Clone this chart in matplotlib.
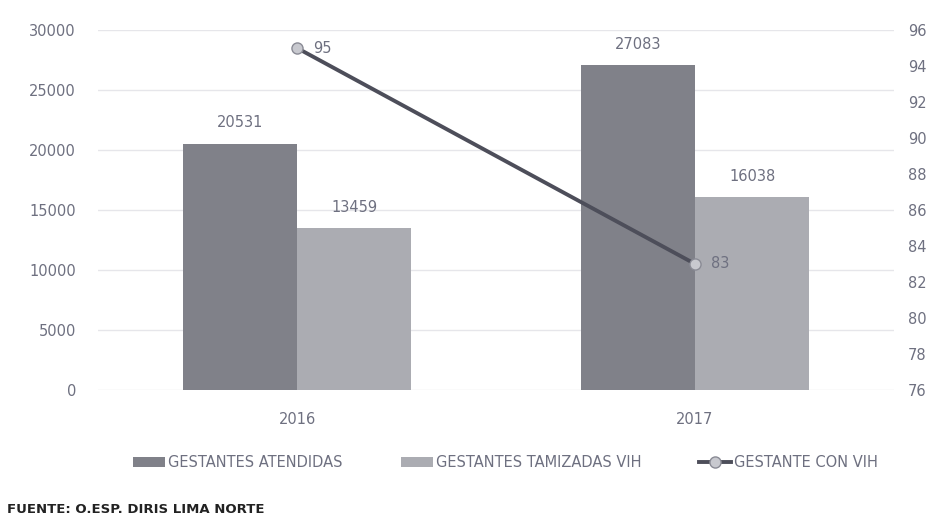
import matplotlib
matplotlib.use("Agg")
import matplotlib.pyplot as plt
import numpy as np

years = ["2016", "2017"]
atendidas = [20531, 27083]
tamizadas = [13459, 16038]
con_vih = [95, 83]
left_ticks = [0, 5000, 10000, 15000, 20000, 25000, 30000]
right_ticks = [76, 78, 80, 82, 84, 86, 88, 90, 92, 94, 96]

c_at = "#808189"
c_tam = "#abacb2"
c_line = "#4d4e5a"
c_txt = "#6e7080"

fig = plt.figure(figsize=(9.36, 5.19), dpi=100)
ax = fig.add_axes([0.105, 0.249, 0.85, 0.693])
x = np.arange(len(years))
w = 0.287
b1 = ax.bar(x - w / 2, atendidas, w, color=c_at, label="GESTANTES ATENDIDAS", zorder=2)
b2 = ax.bar(x + w / 2, tamizadas, w, color=c_tam, label="GESTANTES TAMIZADAS VIH", zorder=2)
ax.set_xlim(-0.5, 1.5)
ax.set_ylim(0, 30000)
ax.set_yticks(left_ticks)
ax.set_xticks(x)
ax.set_xticklabels(years)
ax.grid(axis="y", color="#e6e6ea", lw=1, zorder=0)
for s in ax.spines.values():
    s.set_visible(False)
ax.tick_params(length=0, colors=c_txt, labelsize=10.5)
ax.tick_params(axis="y", pad=16)
ax.tick_params(axis="x", pad=16)
for rect, v in zip(list(b1) + list(b2), atendidas + tamizadas):
    ax.text(rect.get_x() + rect.get_width() / 2, v + 1100, str(v), ha="center",
            va="bottom", color=c_txt, fontsize=10.5)

ax2 = ax.twinx()
ln, = ax2.plot(x, con_vih, color=c_line, lw=2.8, marker="o", ms=8,
               mfc="#c8c9cf", mec="#8a8b95", label="GESTANTE CON VIH", zorder=3)
ax2.set_ylim(76, 96)
ax2.set_yticks(right_ticks)
for s in ax2.spines.values():
    s.set_visible(False)
ax2.tick_params(length=0, colors=c_txt, labelsize=10.5, pad=10)
for xi, v in zip(x, con_vih):
    ax2.text(xi + 0.04, v, str(v), ha="left", va="center",
             color=c_txt, fontsize=10.5)

fig.legend(handles=[b1, b2, ln], loc="center", bbox_to_anchor=(0.54, 0.108), ncol=3,
           frameon=False, fontsize=10.5, labelcolor=c_txt, handlelength=2.2,
           columnspacing=4.0, handletextpad=0.2)
fig.text(0.008, 0.012, "FUENTE: O.ESP. DIRIS LIMA NORTE", fontsize=9.5,
         fontweight="bold", color="#222222")
fig.savefig("out.png", dpi=100)
